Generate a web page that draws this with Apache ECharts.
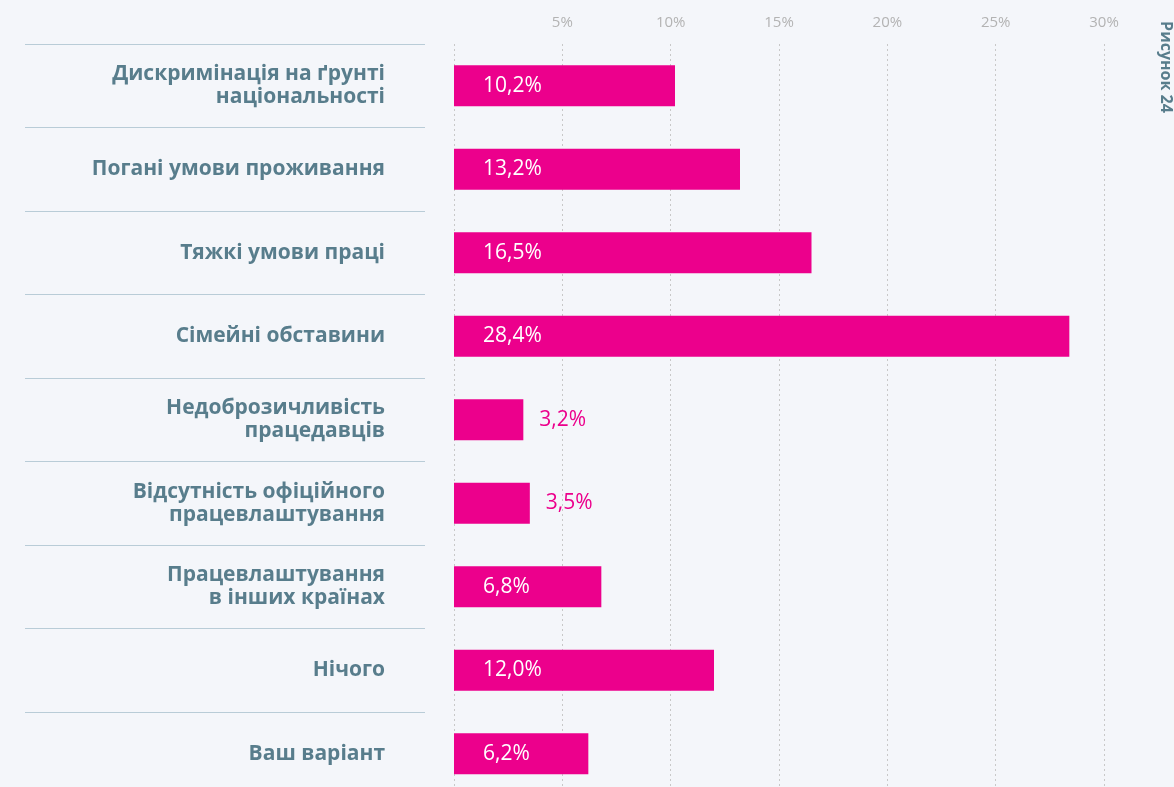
<!DOCTYPE html>
<html>
<head>
<meta charset="utf-8">
<script src="https://cdn.jsdelivr.net/npm/echarts@6/dist/echarts.min.js"></script>
<style>
html,body{margin:0;padding:0;background:#f4f6fa;overflow:hidden;}
#c{width:1174px;height:796px;}
</style>
</head>
<body>
<div id="c"></div>
<script>
const categories = [
  'Дискримінація на ґрунті\nнаціональності',
  'Погані умови проживання',
  'Тяжкі умови праці',
  'Сімейні обставини',
  'Недоброзичливість\nпрацедавців',
  'Відсутність офіційного\nпрацевлаштування',
  'Працевлаштування\nв інших країнах',
  'Нічого',
  'Ваш варіант'
];
const values = [10.2, 13.2, 16.5, 28.4, 3.2, 3.5, 6.8, 12.0, 6.2];
const axisMax = 30;
const axisStep = 5;
const figureLabel = 'Рисунок 24';

const MAGENTA = '#ec008c';
const SLATE = '#587d8c';
const fmt = v => v.toFixed(1).replace('.', ',') + '%';

const seriesData = values.map(v => {
  if (v < 5) {
    return {value: v, label: {position: 'right', distance: 16, color: MAGENTA}};
  }
  return {value: v};
});

const chart = echarts.init(document.getElementById('c'), null, {renderer: 'canvas'});
chart.setOption({
  backgroundColor: '#f4f6fa',
  animation: false,
  grid: [
    {left: 454, width: 650, top: 44, bottom: 0.5},
    {left: 25, width: 400, top: 44, bottom: 0.5}
  ],
  xAxis: [
    {
      gridIndex: 0, type: 'value', position: 'top', min: 0, max: axisMax, interval: axisStep,
      axisLine: {show: false}, axisTick: {show: false},
      axisLabel: {
        showMinLabel: false, margin: 14, color: '#b3b3b3', fontSize: 15,
        fontFamily: 'Open Sans', formatter: v => v === 0 ? '' : v + '%'
      },
      splitLine: {show: true, lineStyle: {color: '#c8c8c8', type: [2, 3], width: 1}}
    },
    {gridIndex: 1, type: 'value', show: false, min: 0, max: 1}
  ],
  yAxis: [
    {
      gridIndex: 0, type: 'category', data: categories, inverse: true,
      axisLine: {show: false}, axisTick: {show: false}, splitLine: {show: false},
      axisLabel: {
        margin: 69, color: SLATE, fontSize: 21, fontWeight: 'bold',
        fontFamily: 'Open Sans', lineHeight: 23, align: 'right'
      }
    },
    {
      gridIndex: 1, type: 'category', data: categories, inverse: true,
      axisLine: {show: false}, axisTick: {show: false}, axisLabel: {show: false},
      splitLine: {show: true, lineStyle: {color: '#b9ccd7', width: 1}}
    }
  ],
  series: [{
    type: 'bar', xAxisIndex: 0, yAxisIndex: 0, data: seriesData,
    barWidth: 41,
    itemStyle: {color: MAGENTA},
    label: {
      show: true, position: 'insideLeft', distance: 29, color: '#ffffff',
      fontSize: 21, fontFamily: 'Open Sans',
      formatter: p => fmt(p.value)
    }
  }],
  graphic: [{
    type: 'text', x: 1166, y: 67, rotation: -Math.PI / 2,
    style: {
      text: figureLabel, fill: SLATE, font: 'bold 16px "Open Sans"',
      textAlign: 'center', textVerticalAlign: 'middle'
    }
  }]
});
</script>
</body>
</html>
